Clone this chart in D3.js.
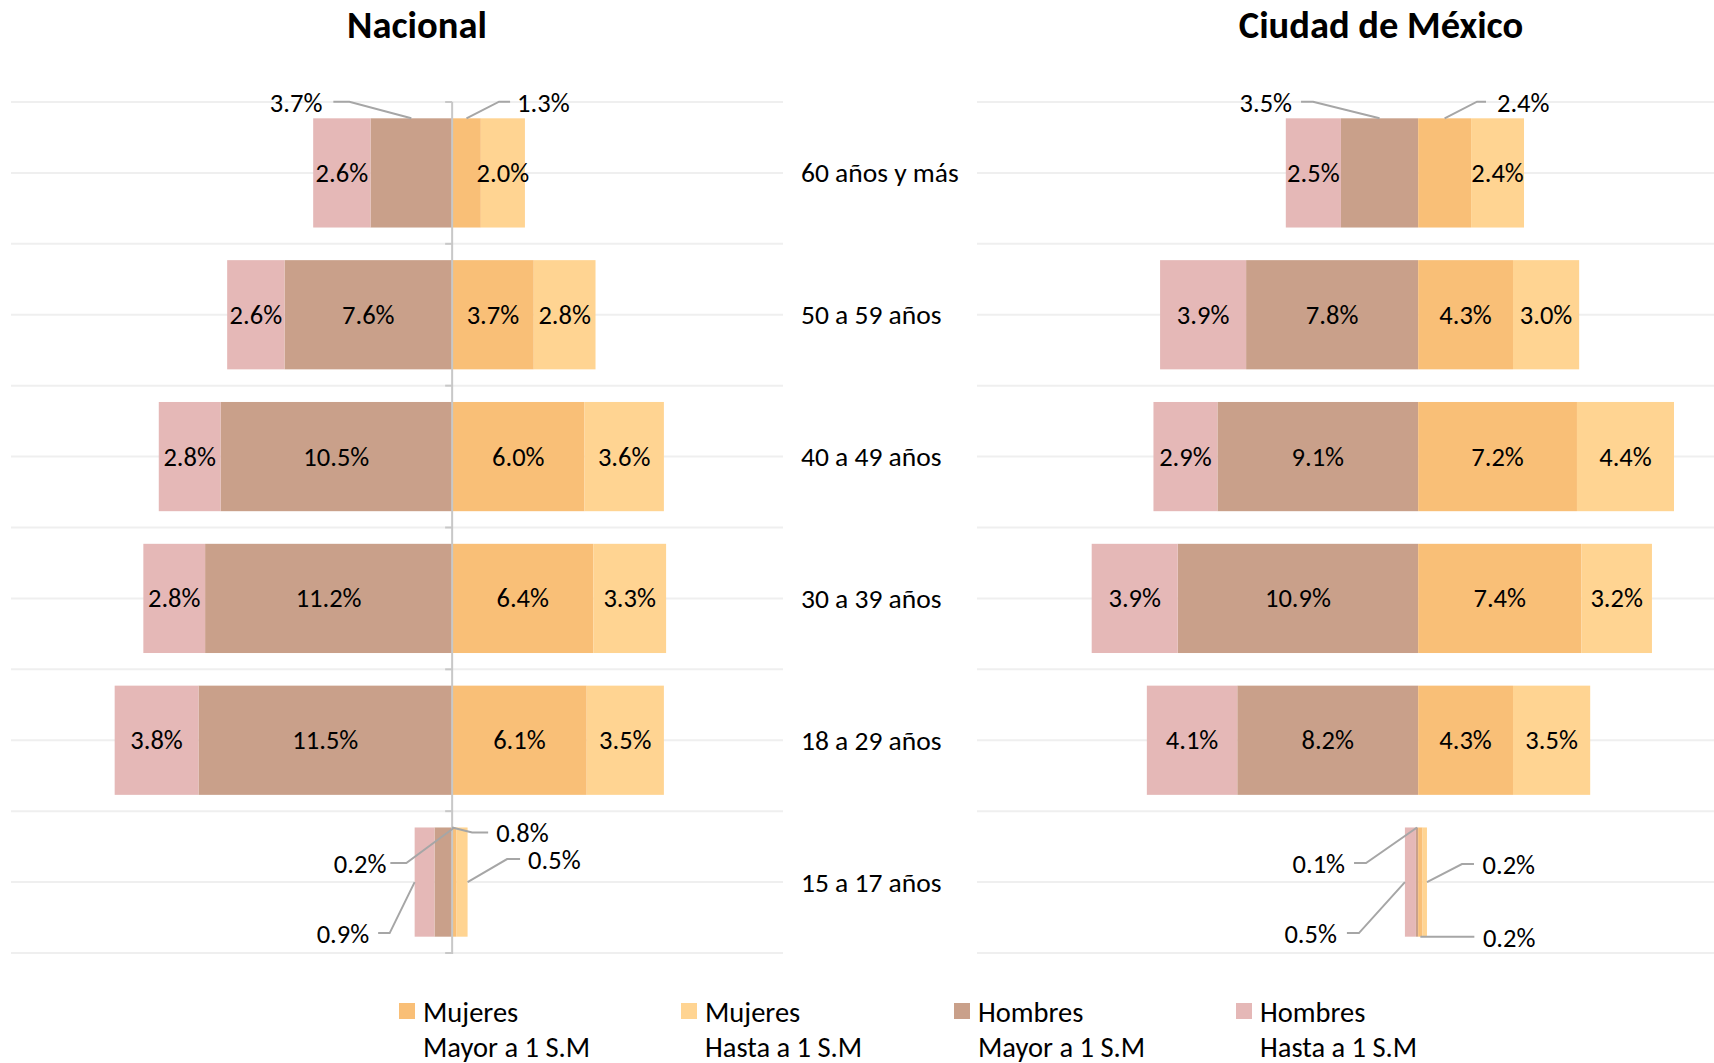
<!DOCTYPE html>
<html><head><meta charset="utf-8">
<script src="https://cdn.jsdelivr.net/npm/d3@7"></script>
<style>
html,body{margin:0;padding:0;background:#fff;}
svg{display:block;font-family:Carlito,Calibri,Lato,sans-serif;}
</style></head>
<body>
<svg id="chart" width="1714" height="1063"></svg>
<script>
// ---- data ----
const categories = ["60 años y más","50 a 59 años","40 a 49 años","30 a 39 años","18 a 29 años","15 a 17 años"];
const panelTitles = ["Nacional","Ciudad de México"];
const nacMujeresMayor = [1.3,3.7,6.0,6.4,6.1,0.2];
const nacMujeresHasta = [2.0,2.8,3.6,3.3,3.5,0.5];
const nacHombresMayor = [3.7,7.6,10.5,11.2,11.5,0.8];
const nacHombresHasta = [2.6,2.6,2.8,2.8,3.8,0.9];
const cdmxMujeresMayor = [2.4,4.3,7.2,7.4,4.3,0.2];
const cdmxMujeresHasta = [2.4,3.0,4.4,3.2,3.5,0.2];
const cdmxHombresMayor = [3.5,7.8,9.1,10.9,8.2,0.1];
const cdmxHombresHasta = [2.5,3.9,2.9,3.9,4.1,0.5];
const seriesKeys = ["hm","hh","mm","mh"];
const seriesNames = {mm:["Mujeres","Mayor a 1 S.M"], mh:["Mujeres","Hasta a 1 S.M"], hm:["Hombres","Mayor a 1 S.M"], hh:["Hombres","Hasta a 1 S.M"]};
const legendOrder = ["mm","mh","hm","hh"];
const colors = {mm:"#F9BF77", mh:"#FFD492", hm:"#C9A08A", hh:"#E5B8B7"};

// callout (leader line) layout for small labels
const calloutsNac = [
  {cat:0,key:"hm",anchor:"top",ex:-62,ey:-16.6,run:-16,gap:-11},
  {cat:0,key:"mm",anchor:"top",ex:32.6,ey:-16.6,run:11,gap:7},
  {cat:5,key:"hm",anchor:"topInner",ex:20,ey:5,run:16,gap:8},
  {cat:5,key:"mm",anchor:"top",ex:-48,ey:35.5,run:-16,gap:-4},
  {cat:5,key:"hh",anchor:"outer",ex:-25,ey:51,run:-11.5,gap:-9},
  {cat:5,key:"mh",anchor:"outer",ex:39.5,ey:-23,run:13,gap:8}
];
const calloutsCdmx = [
  {cat:0,key:"hm",anchor:"top",ex:-66.5,ey:-16.6,run:-12,gap:-9},
  {cat:0,key:"mm",anchor:"top",ex:32.4,ey:-16.6,run:9,gap:11},
  {cat:5,key:"hm",anchor:"top",ex:-51,ey:35.5,run:-12,gap:-9},
  {cat:5,key:"hh",anchor:"outer",ex:-46,ey:51,run:-12,gap:-10},
  {cat:5,key:"mh",anchor:"outer",ex:35,ey:-18,run:12,gap:8.6},
  {cat:5,key:"mm",anchor:"bottom",ex:0,ey:0,run:54,gap:8.6}
];

const panels = [
  {title:panelTitles[0], titleX:417, range:[11,783], axisLine:true,
   mm:nacMujeresMayor, mh:nacMujeresHasta, hm:nacHombresMayor, hh:nacHombresHasta, callouts:calloutsNac},
  {title:panelTitles[1], titleX:1381, range:[977,1749], axisLine:false,
   mm:cdmxMujeresMayor, mh:cdmxMujeresHasta, hm:cdmxHombresMayor, hh:cdmxHombresHasta, callouts:calloutsCdmx}
];

const svg = d3.select("#chart");
const W = 1714;
const y = d3.scaleBand().domain(categories).range([102,953]).paddingInner(0.23).paddingOuter(0.115);
const step = y.step();
const fmt = v => d3.format(".1f")(v) + "%";
const FS = 26.5;     // data labels
const FS_CAT = 27.5; // category labels
const FS_LEG = 28.5; // legend
const FS_TITLE = 38.5;

panels.forEach(p => {
  const x = d3.scaleLinear().domain([-20,15]).range(p.range);
  const g = svg.append("g");
  const x0 = x(0);
  const gx1 = x.range()[0], gx2 = Math.min(x.range()[1], W);
  // horizontal gridlines (band edges and centres)
  const gl = [];
  for (let k=0;k<=categories.length*2;k++) gl.push(y.range()[0] + k*step/2);
  g.append("g").selectAll("line").data(gl).join("line")
    .attr("x1",gx1).attr("x2",gx2).attr("y1",d=>d).attr("y2",d=>d)
    .attr("stroke","#EFEFEF").attr("stroke-width",2);

  // stacked data
  const rows = categories.map((c,i)=>({cat:c, hm:-p.hm[i], hh:-p.hh[i], mm:p.mm[i], mh:p.mh[i]}));
  const stack = d3.stack().keys(seriesKeys).offset(d3.stackOffsetDiverging);
  const stacked = stack(rows);

  stacked.forEach(s => {
    g.append("g").selectAll("rect").data(s).join("rect")
      .attr("x", d=>x(Math.min(d[0],d[1])))
      .attr("width", d=>Math.abs(x(d[1])-x(d[0])))
      .attr("y", d=>y(d.data.cat))
      .attr("height", y.bandwidth())
      .attr("fill", colors[s.key]);
  });

  // axis line
  if (p.axisLine) {
    g.append("line").attr("x1",x0).attr("x2",x0).attr("y1",y.range()[0]).attr("y2",y.range()[1]+1)
      .attr("stroke","#C8C8C8").attr("stroke-width",2);
    const ticks = [];
    for (let k=0;k<=categories.length;k++) ticks.push(y.range()[0]+k*step);
    g.append("g").selectAll("line").data(ticks).join("line")
      .attr("x1",x0-7).attr("x2",x0).attr("y1",d=>d).attr("y2",d=>d)
      .attr("stroke","#C8C8C8").attr("stroke-width",2);
  }

  // inside labels
  const calloutSet = new Set(p.callouts.map(c=>c.cat+"|"+c.key));
  stacked.forEach(s => {
    g.append("g").selectAll("text").data(s.filter((d,i)=>!calloutSet.has(i+"|"+s.key))).join("text")
      .attr("x", d=>(x(d[0])+x(d[1]))/2)
      .attr("y", d=>y(d.data.cat)+y.bandwidth()/2)
      .attr("text-anchor","middle").attr("dominant-baseline","central")
      .attr("font-size",FS).attr("fill","#000")
      .text(d=>fmt(Math.abs(d.data[s.key])));
  });

  // callouts
  p.callouts.forEach(c => {
    const s = stacked.find(t=>t.key===c.key);
    const d = s[c.cat];
    const top = y(categories[c.cat]), bot = top + y.bandwidth(), mid = top + y.bandwidth()/2;
    const a = x(d[0]), b = x(d[1]);
    let ax, ay;
    if (c.anchor==="top") {ax=(a+b)/2; ay=top;}
    else if (c.anchor==="topInner") {ax=x0; ay=top;}
    else if (c.anchor==="bottom") {ax=(a+b)/2; ay=bot;}
    else {ax = (Math.abs(a-x0)>Math.abs(b-x0))?a:b; ay=mid;}
    const ex = ax+c.ex, ey = ay+c.ey, fx = ex+c.run;
    g.append("polyline").attr("points",[[ax,ay],[ex,ey],[fx,ey]].map(q=>q.join(",")).join(" "))
      .attr("fill","none").attr("stroke","#A6A6A6").attr("stroke-width",2);
    g.append("text").attr("x",fx+c.gap).attr("y",ey+1)
      .attr("text-anchor", c.run<0?"end":"start").attr("dominant-baseline","central")
      .attr("font-size",FS).attr("fill","#000")
      .text(fmt(Math.abs(d.data[c.key])));
  });

  // title
  svg.append("text").attr("x",p.titleX).attr("y",24).attr("text-anchor","middle")
    .attr("dominant-baseline","central").attr("font-size",FS_TITLE).attr("font-weight","bold")
    .attr("fill","#000").text(p.title);
});

// category labels
svg.append("g").selectAll("text").data(categories).join("text")
  .attr("x",801).attr("y",d=>y(d)+y.bandwidth()/2)
  .attr("dominant-baseline","central").attr("font-size",FS_CAT).attr("fill","#000")
  .text(d=>d);

// legend
const legX = [399,681,954,1236];
const lg = svg.append("g").selectAll("g").data(legendOrder).join("g")
  .attr("transform",(d,i)=>`translate(${legX[i]},0)`);
lg.append("rect").attr("x",0).attr("y",1003).attr("width",16).attr("height",16).attr("fill",d=>colors[d]);
lg.append("text").attr("x",24).attr("y",1012).attr("dominant-baseline","central").attr("font-size",FS_LEG)
  .attr("fill","#000").text(d=>seriesNames[d][0]);
lg.append("text").attr("x",24).attr("y",1047).attr("dominant-baseline","central").attr("font-size",FS_LEG)
  .attr("fill","#000").text(d=>seriesNames[d][1]);
</script>
</body></html>
